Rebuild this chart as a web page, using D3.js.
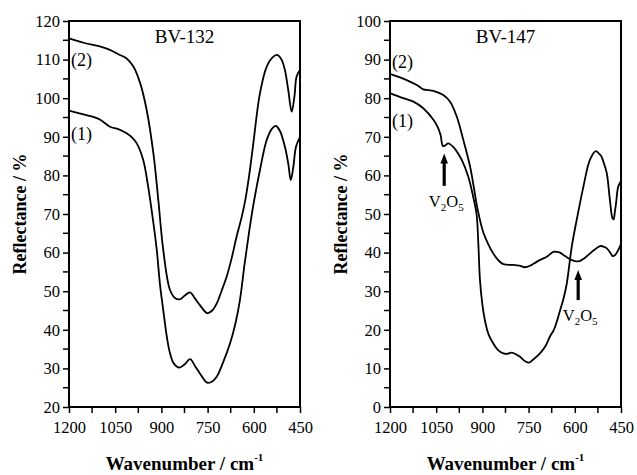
<!DOCTYPE html>
<html>
<head>
<meta charset="utf-8">
<script src="https://cdn.jsdelivr.net/npm/d3@7"></script>
<style>
  body { margin: 0; background: #fff; }
  svg { display: block; font-family: "Liberation Serif", "Times New Roman", serif; }
  .axis path, .axis line { stroke: #000; }
</style>
</head>
<body>
<div id="chart"></div>
<script>
// BV-132, curve (2): [wavenumber, reflectance]
let bv132_2 = [
  [1200,115.5],[1150,114.3],[1100,113.4],[1067,112.5],[1040,111.4],[1013,110.3],[991,108.2],
  [969,103.9],[948,97],[926,85.7],[910,73.6],[894,60.7],[872,50.3],[855,48.2],[840,47.9],
  [825,48.8],[807,49.7],[790,48],[775,46.4],[751,44.3],[735,45],[720,46.9],[705,50],[688,53.8],
  [672,58.5],[656,64.1],[640,69],[629,73],[615,80],[602,88],[580,101.3],[558,108.2],[540,110.5],
  [524,111.2],[510,110],[499,107.3],[488,102],[477,96.5],[468,100.5],[461,105.6],[450,107.3]
];
// BV-132, curve (1)
let bv132_1 = [
  [1200,96.8],[1143,95.6],[1100,94.5],[1067,92.6],[1040,92],[1013,90.9],[995,89.8],[980,88.3],
  [959,84],[943,77.1],[930,70],[915,60.7],[905,52],[894,45.1],[882,38],[872,33.9],[860,31.3],
  [842,30.2],[825,31],[807,32.4],[790,30.5],[775,28.7],[751,26.3],[735,26.6],[720,27.9],[700,31.5],
  [677,36.5],[660,41.5],[645,47.7],[630,57],[615,65.5],[600,73],[580,81.4],[558,89.2],[540,92.2],
  [528,92.8],[515,91.5],[499,87.4],[488,83],[480,78.8],[472,82],[463,87.4],[450,90]
];
// BV-147, curve (2)
let bv147_2 = [
  [1200,86.3],[1146,84.7],[1113,83.4],[1092,82.3],[1075,82.1],[1059,81.9],[1027,80.8],[1005,79.1],
  [983,75.2],[962,69.2],[940,62.3],[928,57],[915,51],[897,45.2],[880,42],[865,39.8],[848,38],
  [832,37],[800,36.8],[780,36.6],[762,36.2],[745,36.6],[724,37.6],[702,38.5],[691,38.9],[670,40.2],
  [660,40.2],[648,40],[637,39.4],[616,38.3],[600,37.8],[585,37.8],[570,38.5],[556,39.4],[535,40.8],
  [518,41.7],[505,41.5],[496,41.1],[485,40],[477,39.1],[470,39.3],[462,40.2],[450,42.2]
];
// BV-147, curve (1)
let bv147_1 = [
  [1200,81.3],[1157,80],[1124,79.1],[1092,77.4],[1059,74.4],[1045,72.5],[1036,70.5],[1028,67.6],
  [1020,67.8],[1011,68.3],[994,67.3],[980,65.8],[967,64],[946,59.7],[930,54.5],[919,50],[913,42],
  [908,33],[900,26.5],[892,22.5],[880,18.8],[865,16.5],[850,14.8],[832,13.9],[818,13.8],[805,14.1],
  [790,13.6],[778,13],[760,11.8],[748,11.5],[735,12.3],[713,13.9],[695,15.8],[681,18.2],[668,20],
  [659,22],[648,25],[637,28],[626,32],[610,41.5],[594,48.4],[572,57.1],[551,64],[532,66.3],
  [520,65.5],[513,64.8],[505,63],[496,60.5],[486,53.6],[478,49],[474,48.6],[470,50.5],[466,52.8],
  [459,57.1],[451,58.4],[450,58.5]
];

let xTicks = [1200, 1050, 900, 750, 600, 450];
let yTicksLeft = d3.range(20, 121, 10);
let yTicksRight = d3.range(0, 101, 10);
let titles = ["BV-132", "BV-147"];
let curveNames = ["(1)", "(2)"];
// V2O5 arrows on BV-147: [wavenumber, tip, base]
let arrows = [[1024, 65.7, 57.3], [589, 35.5, 27.7]];

let W = 637, H = 475;
let svg = d3.select("#chart").append("svg").attr("width", W).attr("height", H);

let panels = [
  {left: 69, title: titles[0], yDomain: [20, 120], yTicks: yTicksLeft, series: [bv132_1, bv132_2],
   labels: [{v: 89.2, name: curveNames[0]}, {v: 108.3, name: curveNames[1]}], arrows: []},
  {left: 390, title: titles[1], yDomain: [0, 100], yTicks: yTicksRight, series: [bv147_1, bv147_2],
   labels: [{v: 72.5, name: curveNames[0]}, {v: 87.8, name: curveNames[1]}], arrows: arrows}
];

let pw = 231, plotTop = 21, plotBottom = 407;
let serif = "'Liberation Serif', 'Times New Roman', serif";

panels.forEach(p => {
  let x = d3.scaleLinear().domain([1200, 450]).range([p.left, p.left + pw]);
  let y = d3.scaleLinear().domain(p.yDomain).range([plotBottom, plotTop]);
  let g = svg.append("g");

  // minor ticks
  let xMinor = d3.range(1200, 449, -75).filter(d => !xTicks.includes(d));
  let yMinor = d3.range(p.yDomain[0] + 5, p.yDomain[1], 10);
  g.selectAll(".xm").data(xMinor).join("line")
    .attr("x1", d => x(d)).attr("x2", d => x(d))
    .attr("y1", plotBottom).attr("y2", plotBottom + 6)
    .attr("stroke", "#000").attr("stroke-width", 1.5);
  g.selectAll(".ym").data(yMinor).join("line")
    .attr("y1", d => y(d)).attr("y2", d => y(d))
    .attr("x1", p.left).attr("x2", p.left - 6)
    .attr("stroke", "#000").attr("stroke-width", 1.5);

  let axisX = d3.axisBottom(x).tickValues(xTicks).tickSize(6).tickPadding(6).tickFormat(d3.format("d"));
  let gx = g.append("g").attr("class", "axis")
    .attr("transform", `translate(0,${plotBottom})`).call(axisX);
  let axisY = d3.axisLeft(y).tickValues(p.yTicks).tickSize(6).tickPadding(3).tickFormat(d3.format("d"));
  let gy = g.append("g").attr("class", "axis")
    .attr("transform", `translate(${p.left},0)`).call(axisY);
  [gx, gy].forEach(a => {
    a.attr("font-family", serif).attr("font-size", 16.5);
    a.select(".domain").remove();
    a.selectAll("line").attr("stroke-width", 1.5);
    a.selectAll("text").attr("fill", "#000");
  });
  gx.selectAll("text").attr("dy", "0.85em");

  // frame
  g.append("rect")
    .attr("x", p.left).attr("y", plotTop)
    .attr("width", pw).attr("height", plotBottom - plotTop)
    .attr("fill", "none").attr("stroke", "#000").attr("stroke-width", 2);

  let line = d3.line()
    .x(d => x(d[0])).y(d => y(d[1]))
    .curve(d3.curveCatmullRom.alpha(0.5));

  g.selectAll(".curve").data(p.series).join("path")
    .attr("class", "curve")
    .attr("d", line)
    .attr("fill", "none").attr("stroke", "#000").attr("stroke-width", 1.8);

  g.append("text")
    .attr("x", x(825)).attr("y", 43)
    .attr("text-anchor", "middle").style("font-size", "19px")
    .text(p.title);

  g.selectAll(".lab").data(p.labels).join("text")
    .attr("x", p.left + 2).attr("y", d => y(d.v))
    .style("font-size", "18px")
    .text(d => d.name);

  // arrows and V2O5 labels
  p.arrows.forEach(a => {
    let ax = x(a[0]), tip = y(a[1]), base = y(a[2]);
    g.append("line")
      .attr("x1", ax).attr("x2", ax)
      .attr("y1", base).attr("y2", tip + 8)
      .attr("stroke", "#000").attr("stroke-width", 3.2);
    g.append("path")
      .attr("d", `M${ax},${tip}L${ax + 3.8},${tip + 10}L${ax - 3.8},${tip + 10}Z`)
      .attr("fill", "#000");
    let t = g.append("text")
      .attr("x", ax + 2).attr("y", base + 21)
      .attr("text-anchor", "middle").style("font-size", "16.5px");
    t.append("tspan").text("V");
    t.append("tspan").attr("dy", 4).style("font-size", "11px").text("2");
    t.append("tspan").attr("dy", -4).text("O");
    t.append("tspan").attr("dy", 4).style("font-size", "11px").text("5");
  });

  // axis titles
  let xt = g.append("text")
    .attr("x", p.left + pw / 2).attr("y", 470)
    .attr("text-anchor", "middle")
    .style("font-size", "19px").style("font-weight", "bold");
  xt.append("tspan").text("Wavenumber / cm");
  xt.append("tspan").attr("dy", -9).style("font-size", "11px").text("-1");

  g.append("text")
    .attr("transform", `translate(${p.left - 43},${(plotTop + plotBottom) / 2}) rotate(-90)`)
    .attr("text-anchor", "middle")
    .style("font-size", "18px").style("font-weight", "bold")
    .text("Reflectance / %");
});
</script>
</body>
</html>
